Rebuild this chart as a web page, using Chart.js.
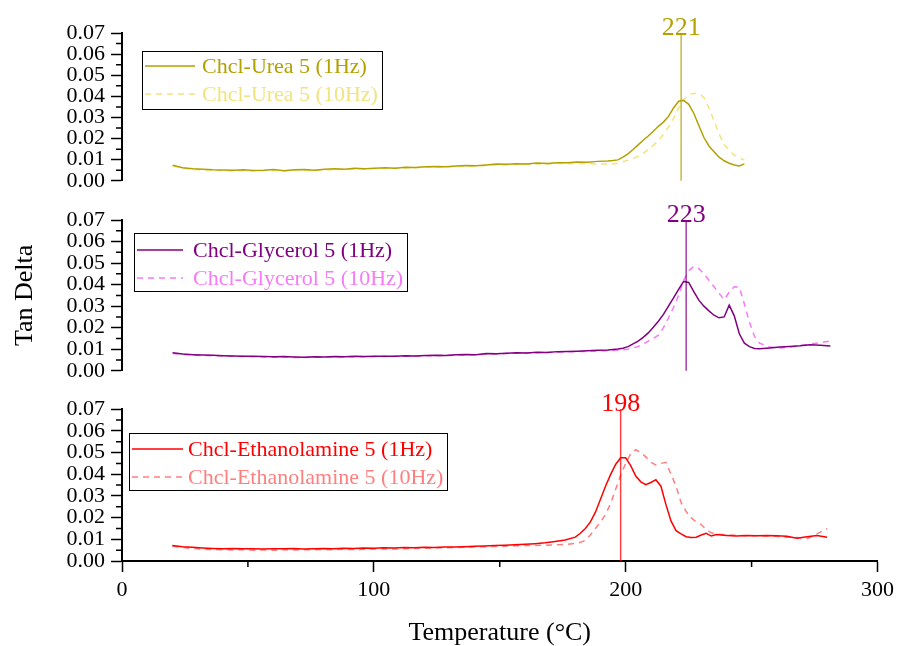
<!DOCTYPE html>
<html>
<head>
<meta charset="utf-8">
<script src="https://cdn.jsdelivr.net/npm/chart.js@4.4.1/dist/chart.umd.min.js"></script>
<style>
  body { margin: 0; background: #fff; }
  #wrap { position: relative; width: 899px; height: 646px; }
  #wrap canvas { position: absolute; left: 0; }
</style>
</head>
<body>
<div id="wrap">
  <canvas id="urea" width="899" height="200" style="top:0px"></canvas>
  <canvas id="glycerol" width="899" height="190" style="top:200px"></canvas>
  <canvas id="ethanol" width="899" height="256" style="top:390px"></canvas>
</div>
<script>
// Chcl-Urea 5, temperature (°C) and tan delta
const ureaTemp = [20,24,28,32,36,40,44,48,52,56,60,64,68,72,76,80,84,88,92,96,100,104,108,112,116,120,124,128,132,136,140,144,148,152,156,160,164,168,172,176,180,184,188,192,
  194,196,198,200,202,204,206,208,210,212,214,216,218,220,222,224,226,228,230,232,234,236,238,240,242,244,246];
const urea1Hz = [0.0074,0.0062,0.0057,0.0055,0.0052,0.0051,0.0050,0.0052,0.0049,0.0050,0.0053,0.0048,0.0052,0.0054,0.0050,0.0055,0.0057,0.0055,0.0059,0.0057,0.0060,0.0062,0.0060,0.0064,0.0063,0.0066,0.0068,0.0066,0.0070,0.0072,0.0071,0.0075,0.0079,0.0078,0.0081,0.0080,0.0084,0.0082,0.0086,0.0085,0.0089,0.0088,0.0092,0.0094,
  0.0096,0.0099,0.0112,0.0128,0.0148,0.0170,0.0192,0.0212,0.0235,0.0258,0.0278,0.0305,0.0345,0.0377,0.0381,0.0362,0.0320,0.0262,0.0205,0.0165,0.0138,0.0112,0.0095,0.0083,0.0075,0.0070,0.0080];
const urea10Hz = [0.0070,0.0060,0.0054,0.0052,0.0049,0.0048,0.0047,0.0048,0.0046,0.0048,0.0049,0.0047,0.0049,0.0050,0.0049,0.0052,0.0053,0.0053,0.0056,0.0055,0.0058,0.0059,0.0059,0.0061,0.0062,0.0064,0.0065,0.0065,0.0068,0.0069,0.0070,0.0072,0.0075,0.0075,0.0077,0.0078,0.0080,0.0080,0.0082,0.0081,0.0082,0.0081,0.0080,0.0079,
  0.0080,0.0084,0.0090,0.0098,0.0106,0.0116,0.0130,0.0148,0.0168,0.0190,0.0220,0.0255,0.0295,0.0345,0.0385,0.0406,0.0414,0.0413,0.0395,0.0345,0.0285,0.0222,0.0172,0.0145,0.0122,0.0108,0.0098];
const ureaPeak = 221;

// Chcl-Glycerol 5
const glycTemp = [20,24,28,32,36,40,44,48,52,56,60,64,68,72,76,80,84,88,92,96,100,104,108,112,116,120,124,128,132,136,140,144,148,152,156,160,164,168,172,176,180,184,188,192,196,
  198,200,202,204,206,208,210,212,214,216,218,220,222,224,226,228,230,232,234,236,238,240,242,244,246,248,250,252,
  256,260,264,268,272,276,280];
const glyc1Hz = [0.0084,0.0078,0.0075,0.0073,0.0072,0.0070,0.0069,0.0068,0.0067,0.0066,0.0065,0.0066,0.0064,0.0063,0.0065,0.0064,0.0066,0.0065,0.0067,0.0066,0.0068,0.0067,0.0068,0.0070,0.0069,0.0071,0.0072,0.0071,0.0074,0.0076,0.0075,0.0080,0.0079,0.0082,0.0084,0.0083,0.0086,0.0085,0.0089,0.0090,0.0091,0.0093,0.0095,0.0097,0.0101,
  0.0105,0.0112,0.0125,0.0138,0.0155,0.0176,0.0202,0.0230,0.0262,0.0300,0.0338,0.0378,0.0415,0.0410,0.0368,0.0328,0.0300,0.0278,0.0258,0.0246,0.0250,0.0305,0.0255,0.0172,0.0128,0.0112,0.0104,0.0102,
  0.0106,0.0110,0.0113,0.0116,0.0121,0.0119,0.0115];
const glyc10Hz = [0.0080,0.0076,0.0073,0.0071,0.0070,0.0068,0.0067,0.0066,0.0065,0.0064,0.0063,0.0064,0.0062,0.0062,0.0063,0.0063,0.0064,0.0064,0.0065,0.0065,0.0066,0.0066,0.0067,0.0068,0.0068,0.0070,0.0070,0.0071,0.0073,0.0074,0.0075,0.0077,0.0078,0.0080,0.0082,0.0083,0.0084,0.0085,0.0087,0.0088,0.0089,0.0090,0.0091,0.0093,0.0095,
  0.0097,0.0100,0.0106,0.0113,0.0124,0.0138,0.0150,0.0165,0.0200,0.0245,0.0295,0.0350,0.0420,0.0465,0.0484,0.0474,0.0450,0.0420,0.0390,0.0360,0.0330,0.0365,0.0390,0.0388,0.0310,0.0225,0.0160,0.0128,
  0.0110,0.0106,0.0110,0.0117,0.0124,0.0130,0.0138];
const glycPeak = 223;

// Chcl-Ethanolamine 5
const ethTemp = [20,24,28,32,36,40,44,48,52,56,60,64,68,72,76,80,84,88,92,96,100,104,108,112,116,120,124,128,132,136,140,144,148,152,156,160,164,168,172,176,180,
  182,184,186,188,190,192,194,196,198,200,202,204,206,208,210,212,214,216,218,220,222,224,226,228,230,232,234,236,
  240,244,248,252,256,260,264,268,272,276,280];
const eth1Hz = [0.0072,0.0066,0.0063,0.0060,0.0058,0.0057,0.0058,0.0056,0.0057,0.0055,0.0057,0.0056,0.0058,0.0055,0.0056,0.0058,0.0057,0.0059,0.0058,0.0060,0.0059,0.0061,0.0060,0.0062,0.0061,0.0063,0.0062,0.0064,0.0065,0.0066,0.0068,0.0069,0.0071,0.0073,0.0075,0.0077,0.0080,0.0084,0.0090,0.0097,0.0110,
  0.0128,0.0150,0.0180,0.0225,0.0285,0.0345,0.0398,0.0445,0.0476,0.0476,0.0440,0.0392,0.0365,0.0352,0.0362,0.0375,0.0345,0.0260,0.0185,0.0140,0.0125,0.0112,0.0108,0.0110,0.0120,0.0128,0.0115,0.0122,
  0.0118,0.0115,0.0118,0.0116,0.0118,0.0117,0.0114,0.0105,0.0112,0.0118,0.0110];
const eth10Hz = [0.0068,0.0062,0.0058,0.0055,0.0053,0.0052,0.0051,0.0052,0.0050,0.0051,0.0050,0.0052,0.0051,0.0052,0.0051,0.0053,0.0052,0.0054,0.0053,0.0054,0.0055,0.0056,0.0055,0.0057,0.0058,0.0059,0.0060,0.0061,0.0062,0.0063,0.0065,0.0066,0.0067,0.0068,0.0070,0.0071,0.0072,0.0073,0.0074,0.0076,0.0081,
  0.0086,0.0095,0.0120,0.0150,0.0180,0.0215,0.0264,0.0330,0.0395,0.0450,0.0495,0.0513,0.0500,0.0480,0.0455,0.0443,0.0450,0.0455,0.0400,0.0345,0.0270,0.0228,0.0200,0.0180,0.0168,0.0145,0.0130,0.0125,
  0.0120,0.0118,0.0117,0.0116,0.0115,0.0113,0.0110,0.0108,0.0103,0.0125,0.0150];
const ethPeak = 198;

// axis minor tick positions
const yMinor = [0.005, 0.015, 0.025, 0.035, 0.045, 0.055, 0.065];
const xMinor = [50, 150, 250];

const serif = "'Liberation Serif', 'Times New Roman', serif";
const tickFont = { family: serif, size: 22 };

// vertical marker at the peak temperature with its value on top
const peakLine = {
  id: 'peakLine',
  afterDatasetsDraw(chart, args, opts) {
    const { ctx, scales: { x, y } } = chart;
    const px = x.getPixelForValue(opts.value);
    ctx.save();
    ctx.strokeStyle = opts.color;
    ctx.globalAlpha = 0.75;
    ctx.lineWidth = 1.5;
    ctx.beginPath();
    ctx.moveTo(px, y.getPixelForValue(0.07));
    ctx.lineTo(px, y.getPixelForValue(0));
    ctx.stroke();
    ctx.globalAlpha = 1;
    ctx.fillStyle = opts.color;
    ctx.font = '26px ' + serif;
    ctx.textAlign = 'center';
    ctx.textBaseline = 'alphabetic';
    ctx.fillText(String(opts.value), px, y.top + 2);
    ctx.restore();
  }
};

// framed legend inside the plot
const boxLegend = {
  id: 'boxLegend',
  afterDraw(chart, args, opts) {
    const { ctx, chartArea } = chart;
    const left = Math.round(chartArea.left + opts.left);
    const top = Math.round(chartArea.top + opts.top);
    ctx.save();
    ctx.font = '22px ' + serif;
    const widths = chart.data.datasets.map(d => ctx.measureText(d.label).width);
    const w = Math.round(opts.textX + Math.max(...widths) + 4);
    ctx.fillStyle = '#fff';
    ctx.fillRect(left, top, w, opts.height);
    ctx.strokeStyle = '#000';
    ctx.lineWidth = 1;
    ctx.strokeRect(left + 0.5, top + 0.5, w, opts.height);
    chart.data.datasets.forEach((ds, i) => {
      const ry = top + opts.rows[i];
      ctx.strokeStyle = ds.borderColor;
      ctx.lineWidth = 1.5;
      ctx.setLineDash(ds.borderDash);
      ctx.beginPath();
      ctx.moveTo(left + opts.lineX[0], ry);
      ctx.lineTo(left + opts.lineX[1], ry);
      ctx.stroke();
      ctx.setLineDash([]);
      ctx.fillStyle = ds.borderColor;
      ctx.textAlign = 'left';
      ctx.textBaseline = 'middle';
      ctx.fillText(ds.label, left + opts.textX, ry + 1);
    });
    ctx.restore();
  }
};

// short unlabeled ticks between the major ones
const minorTicks = {
  id: 'minorTicks',
  afterDraw(chart) {
    const { ctx, scales: { x, y } } = chart;
    ctx.save();
    ctx.strokeStyle = '#000';
    ctx.lineWidth = 1.5;
    ctx.beginPath();
    yMinor.forEach(v => {
      const py = y.getPixelForValue(v);
      ctx.moveTo(y.right - 6, py);
      ctx.lineTo(y.right, py);
    });
    if (x.options.display) {
      xMinor.forEach(v => {
        const px = x.getPixelForValue(v);
        ctx.moveTo(px, x.top);
        ctx.lineTo(px, x.top + 6);
      });
    }
    ctx.stroke();
    ctx.restore();
  }
};

function series(label, temps, values, color, dashed) {
  return {
    label: label,
    data: temps.map((t, i) => ({ x: t, y: values[i] })),
    borderColor: color,
    borderWidth: 1.5,
    borderDash: dashed ? [6, 5] : [],
    pointRadius: 0,
    tension: 0,
    fill: false
  };
}

function makePanel(id, datasets, cfg) {
  return new Chart(document.getElementById(id), {
    type: 'line',
    data: { datasets: datasets },
    options: {
      responsive: false,
      animation: false,
      events: [],
      layout: { padding: cfg.padding },
      plugins: {
        legend: { display: false },
        tooltip: { enabled: false },
        peakLine: cfg.peak,
        boxLegend: cfg.legend
      },
      scales: {
        x: {
          type: 'linear',
          min: 0,
          max: 300,
          display: cfg.showX,
          border: { color: '#000', width: 2 },
          grid: { drawOnChartArea: false, tickLength: 11, tickColor: '#000', tickWidth: 1.5 },
          ticks: { stepSize: 100, color: '#000', font: tickFont, padding: 5, maxRotation: 0 },
          title: {
            display: cfg.showX,
            text: 'Temperature (°C)',
            color: '#000',
            font: { family: serif, size: 26, lineHeight: 1 },
            padding: { top: 0, bottom: 0 }
          },
          afterFit: s => { s.height = cfg.showX ? 85 : 0; }
        },
        y: {
          min: 0,
          max: 0.07,
          border: { color: '#000', width: 2 },
          grid: { drawOnChartArea: false, tickLength: 11, tickColor: '#000', tickWidth: 1.5 },
          ticks: { stepSize: 0.01, autoSkip: false, color: '#000', font: tickFont, padding: 6, callback: v => v.toFixed(2) },
          title: {
            display: !!cfg.yTitle,
            text: cfg.yTitle || '',
            color: '#000',
            font: { family: serif, size: 26, lineHeight: 1 },
            padding: { top: 12, bottom: 0 }
          },
          afterFit: s => { s.width = 122; }
        }
      }
    },
    plugins: [peakLine, boxLegend, minorTicks]
  });
}

makePanel('urea', [
  series('Chcl-Urea 5 (1Hz)', ureaTemp, urea1Hz, '#B3A100', false),
  series('Chcl-Urea 5 (10Hz)', ureaTemp, urea10Hz, '#F2E47C', true)
], {
  padding: { top: 33, bottom: 16, left: 0, right: 18 },
  showX: false,
  peak: { value: ureaPeak, color: '#B3A100' },
  legend: { left: 20, top: 18, height: 58, lineX: [3, 53], textX: 60, rows: [15, 43] }
});

makePanel('glycerol', [
  series('Chcl-Glycerol 5 (1Hz)', glycTemp, glyc1Hz, '#800080', false),
  series('Chcl-Glycerol 5 (10Hz)', glycTemp, glyc10Hz, '#F77AF7', true)
], {
  padding: { top: 20, bottom: 18, left: 0, right: 18 },
  showX: false,
  yTitle: 'Tan Delta',
  peak: { value: glycPeak, color: '#800080' },
  legend: { left: 12, top: 13, height: 58, lineX: [3, 49], textX: 59, rows: [17, 45] }
});

makePanel('ethanol', [
  series('Chcl-Ethanolamine 5 (1Hz)', ethTemp, eth1Hz, '#FF0000', false),
  series('Chcl-Ethanolamine 5 (10Hz)', ethTemp, eth10Hz, '#FF7F7F', true)
], {
  padding: { top: 18, bottom: 0, left: 0, right: 18 },
  showX: true,
  peak: { value: ethPeak, color: '#FF0000' },
  legend: { left: 7, top: 24, height: 57, lineX: [3, 54], textX: 59, rows: [16, 44] }
});
</script>
</body>
</html>
